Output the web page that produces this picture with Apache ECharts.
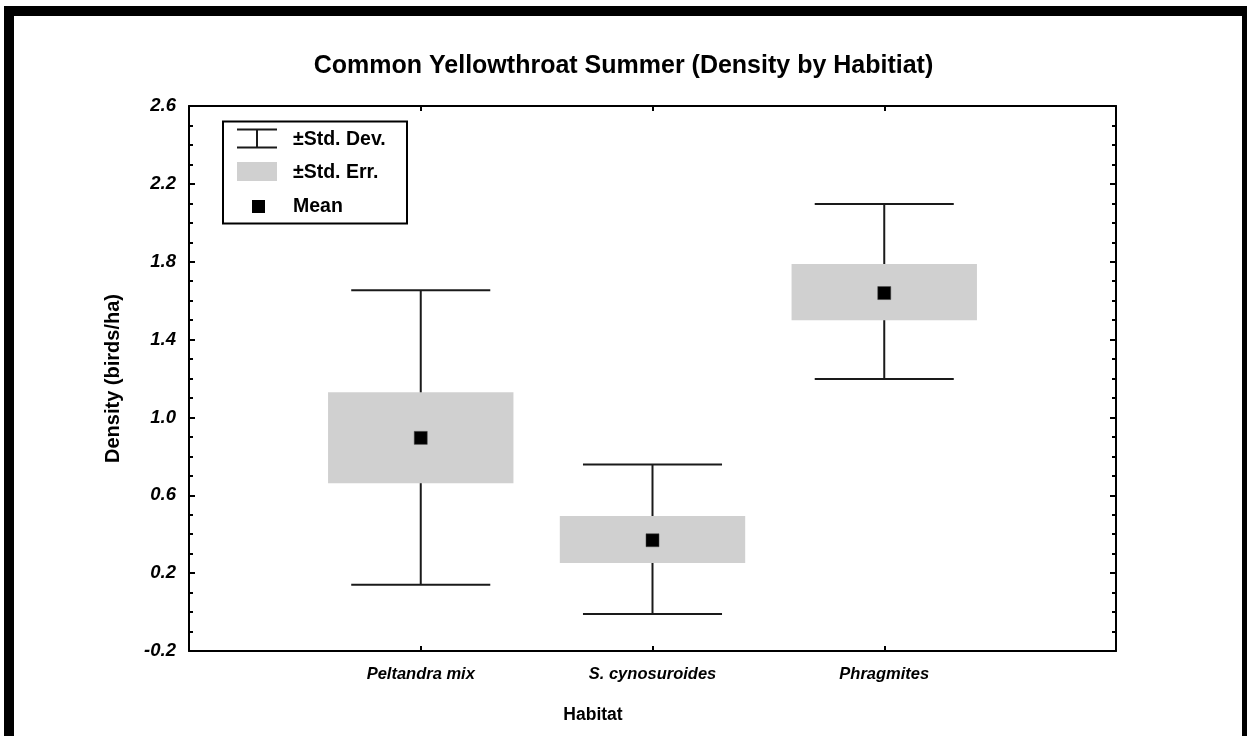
<!DOCTYPE html>
<html>
<head>
<meta charset="utf-8">
<script src="https://cdn.jsdelivr.net/npm/echarts@6/dist/echarts.min.js"></script>
<style>
  html, body { margin: 0; padding: 0; background: #fff; }
  #chart { width: 1247px; height: 736px; }
</style>
</head>
<body>
<div id="chart"></div>
<script>
// habitats (blank slots at both ends pad the axis like the original)
const habitats = ['', 'Peltandra mix', 'S. cynosuroides', 'Phragmites', '']
const means = [0.895, 0.369, 1.639]
const seLow = [0.662, 0.252, 1.499]
const seHigh = [1.129, 0.493, 1.788]
const sdLow = [0.141, -0.010, 1.197]
const sdHigh = [1.654, 0.758, 2.097]
const yTicks = { min: -0.2, max: 2.6, step: 0.4 }

const font = 'Arial, "Liberation Sans", sans-serif'
const lineColor = '#1a1a1a'
const boxColor = '#d0d0d0'

const chart = echarts.init(document.getElementById('chart'))

let seData = means.map((m, i) => [i + 1, seLow[i], seHigh[i]])
let sdData = means.map((m, i) => [i + 1, sdLow[i], sdHigh[i]])
let meanData = means.map((m, i) => [i + 1, m])

function axisBase (pos) {
  return {
    type: 'value',
    position: pos,
    min: yTicks.min,
    max: yTicks.max,
    interval: yTicks.step,
    axisLine: { show: true, onZero: false, lineStyle: { color: '#000', width: 2 } },
    axisTick: { show: true, inside: true, length: 6, lineStyle: { color: '#000', width: 2 } },
    minorTick: { show: true, splitNumber: 4, length: 4, lineStyle: { color: '#000', width: 2 } },
    splitLine: { show: false }
  }
}

let leftAxis = axisBase('left')
leftAxis.axisLabel = {
  margin: 13,
  fontFamily: font, fontSize: 18.5, fontWeight: 'bold', fontStyle: 'italic', color: '#000',
  formatter: v => v.toFixed(1)
}
leftAxis.name = 'Density (birds/ha)'
leftAxis.nameLocation = 'middle'
leftAxis.nameGap = 66
leftAxis.nameTextStyle = { fontFamily: font, fontSize: 20, fontWeight: 'bold', color: '#000' }

let rightAxis = axisBase('right')
rightAxis.axisLabel = { show: false }

function catAxis (pos, showLabels) {
  return {
    type: 'category',
    position: pos,
    data: habitats,
    boundaryGap: false,
    axisLine: { show: true, onZero: false, lineStyle: { color: '#000', width: 2 } },
    axisTick: { show: true, inside: true, length: 5, lineStyle: { color: '#000', width: 2 } },
    axisLabel: showLabels ? {
      margin: 15, fontFamily: font, fontSize: 16.5, fontWeight: 'bold', fontStyle: 'italic', color: '#000'
    } : { show: false },
    splitLine: { show: false }
  }
}

let option = {
  backgroundColor: '#fff',
  animation: false,
  title: {
    text: 'Common Yellowthroat Summer (Density by Habitiat)',
    left: 'center',
    top: 49,
    textStyle: { fontFamily: font, fontSize: 25, fontWeight: 'bold', color: '#000' }
  },
  grid: { left: 189, right: 131, top: 106, bottom: 85, containLabel: false },
  xAxis: [catAxis('bottom', true), catAxis('top', false)],
  yAxis: [leftAxis, rightAxis],
  graphic: [
    // frame round the figure
    { type: 'rect', shape: { x: 9, y: 11, width: 1238, height: 800 }, style: { fill: null, stroke: '#000', lineWidth: 10 }, silent: true },
    // x axis name
    { type: 'text', x: 593, y: 715, style: { text: 'Habitat', font: 'bold 17.5px ' + font, fill: '#000', textAlign: 'center', textVerticalAlign: 'middle' } },
    // legend
    { type: 'rect', shape: { x: 223, y: 121.5, width: 184, height: 102 }, style: { fill: '#fff', stroke: '#000', lineWidth: 2 }, z: 10 },
    { type: 'line', shape: { x1: 237, y1: 129.5, x2: 277, y2: 129.5 }, style: { stroke: lineColor, lineWidth: 2 }, z: 11 },
    { type: 'line', shape: { x1: 237, y1: 147.5, x2: 277, y2: 147.5 }, style: { stroke: lineColor, lineWidth: 2 }, z: 11 },
    { type: 'line', shape: { x1: 257, y1: 129.5, x2: 257, y2: 147.5 }, style: { stroke: lineColor, lineWidth: 2 }, z: 11 },
    { type: 'rect', shape: { x: 237, y: 162, width: 40, height: 19 }, style: { fill: boxColor }, z: 11 },
    { type: 'rect', shape: { x: 252, y: 200, width: 13, height: 13 }, style: { fill: '#000' }, z: 11 },
    { type: 'text', x: 293, y: 140, style: { text: '±Std. Dev.', font: 'bold 19.5px ' + font, fill: '#000', textVerticalAlign: 'middle' }, z: 11 },
    { type: 'text', x: 293, y: 173, style: { text: '±Std. Err.', font: 'bold 19.5px ' + font, fill: '#000', textVerticalAlign: 'middle' }, z: 11 },
    { type: 'text', x: 293, y: 207, style: { text: 'Mean', font: 'bold 19.5px ' + font, fill: '#000', textVerticalAlign: 'middle' }, z: 11 }
  ],
  series: [
    {
      name: '±Std. Err.',
      type: 'custom',
      data: seData,
      z: 2,
      renderItem: (params, api) => {
        let lo = api.coord([api.value(0), api.value(1)])
        let hi = api.coord([api.value(0), api.value(2)])
        let w = api.size([1, 0])[0] * 0.8
        return {
          type: 'rect',
          shape: { x: lo[0] - w / 2, y: hi[1], width: w, height: lo[1] - hi[1] },
          style: { fill: boxColor }
        }
      }
    },
    {
      name: '±Std. Dev.',
      type: 'custom',
      data: sdData,
      z: 1,
      renderItem: (params, api) => {
        let lo = api.coord([api.value(0), api.value(1)])
        let hi = api.coord([api.value(0), api.value(2)])
        let w = api.size([1, 0])[0] * 0.6
        let st = { stroke: lineColor, lineWidth: 2 }
        return {
          type: 'group',
          children: [
            { type: 'line', shape: { x1: lo[0], y1: lo[1], x2: hi[0], y2: hi[1] }, style: st },
            { type: 'line', shape: { x1: lo[0] - w / 2, y1: lo[1], x2: lo[0] + w / 2, y2: lo[1] }, style: st },
            { type: 'line', shape: { x1: hi[0] - w / 2, y1: hi[1], x2: hi[0] + w / 2, y2: hi[1] }, style: st }
          ]
        }
      }
    },
    {
      name: 'Mean',
      type: 'scatter',
      data: meanData,
      symbol: 'rect',
      symbolSize: 13,
      z: 3,
      itemStyle: { color: '#000', borderColor: '#444', borderWidth: 0.5, opacity: 1 }
    }
  ]
}

chart.setOption(option)
</script>
</body>
</html>
